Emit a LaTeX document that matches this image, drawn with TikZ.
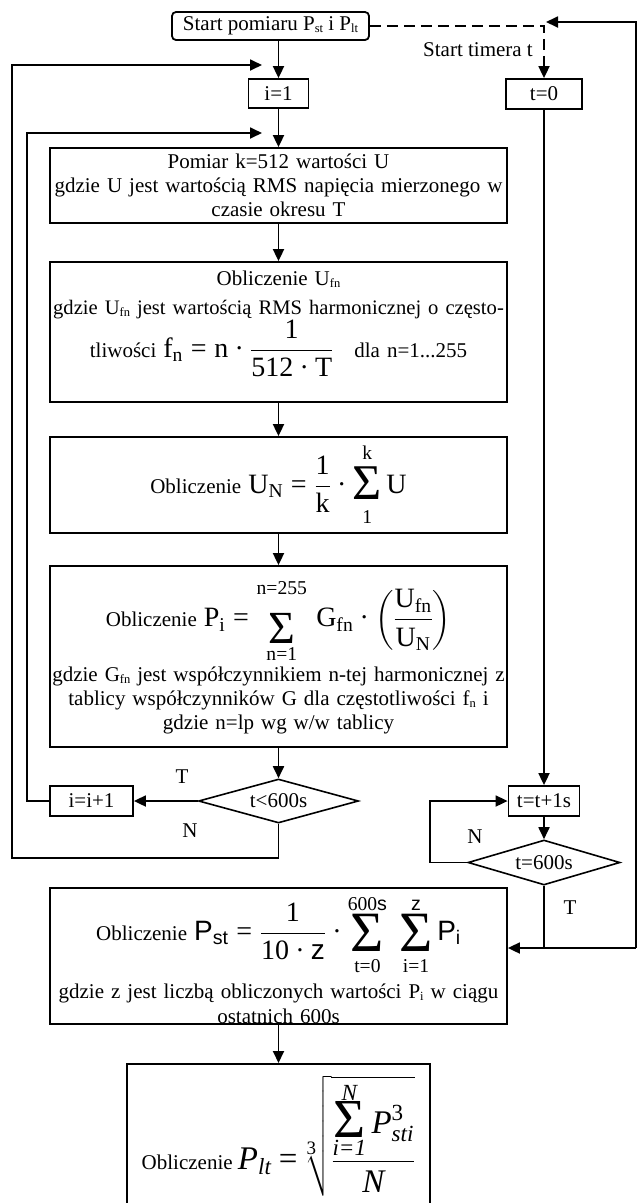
\RequirePackage{fix-cm}
\documentclass[tikz,border=0pt]{standalone}
\usepackage{amsmath}
\usepackage{fontspec}
\setmainfont{Liberation Serif}
\newfontfamily\arialf{Liberation Sans}
\usetikzlibrary{arrows.meta,shapes.geometric}

% small lowered index in running text
\newcommand\sbs[1]{\raisebox{-2pt}{\fontsize{12.5}{12.5}\selectfont #1}}
% letters inside formulas: roman, sans and italic text faces
\newcommand\tx[1]{\text{#1}}
\newcommand\sx[1]{\text{\arialf #1}}
\newcommand\ix[1]{\text{\itshape #1}}
\newcommand\eq{\mathrel{\tx{=}}}
\newcommand\cd{\mathbin{\tx{·}}}
% summation sign from the text font:
% #1 size, #2 lowering, #3 box height, #4 box depth, #5 lower limit, #6 upper limit
\newcommand\bsum[6]{\mathop{\hbox{\raisebox{-#2}[#3][#4]{\fontsize{#1}{#1}\selectfont Σ}}}\limits_{#5}^{#6}}
\newcommand\fsize{\fontsize{28}{32}\selectfont\thickmuskip=5mu\medmuskip=4mu}

\begin{document}
\begin{tikzpicture}[x=1pt,y=-1pt,
  every node/.style={font=\fontsize{21}{24}\selectfont, inner sep=2pt},
  line/.style={line width=1.8pt},
  arr/.style={line width=1.8pt,-{Triangle[length=12pt,width=11pt]}},
  dsh/.style={dash pattern=on 11pt off 6pt},
  box/.style={draw, line width=1.8pt, rectangle},
  bigbox/.style={box, inner sep=0pt, text width=457pt, align=center},
  dec/.style={draw, line width=1.6pt, diamond, shape aspect=3.6, inner sep=0pt},
  lab/.style={inner sep=0pt}]

\fill[white] (0,0) rectangle (637,1203);
\useasboundingbox (0,0) rectangle (637,1203);

% ---- main column -------------------------------------------------
\node[box, rounded corners=4pt, minimum width=197pt, minimum height=28pt, inner sep=0pt]
  (start) at (270.5,26) {Start pomiaru P\sbs{st} i P\sbs{lt}};
\node[box, minimum width=60pt, minimum height=29pt] (i1) at (278.5,93.5) {i=1};

\node[bigbox, minimum height=75pt] (pom) at (278.5,185.5)
  {Pomiar k=512 wartości U\\
   gdzie U jest wartością RMS napięcia mierzonego w\\
   czasie okresu T};

\node[bigbox, minimum height=140pt] (ufn) at (278.5,332)
  {Obliczenie U\sbs{fn}\\[5pt]
   \makebox[457pt]{\fontsize{20.6}{24}\selectfont gdzie U\sbs{fn} jest wartością RMS harmonicznej o często-}\\
   tliwości {\fsize$\tx{f}_{\tx{n}} \eq \tx{n}\cd\dfrac{\tx{1}}{\tx{512}\cd\tx{T}}$}\quad dla n=1...255\rule[-35pt]{0pt}{0pt}};

\node[bigbox, minimum height=96pt] (un) at (278.5,485)
  {Obliczenie {\fsize$\tx{U}_{\tx{N}} \eq \dfrac{\tx{1}}{\tx{k}}\cd\bsum{50}{6pt}{29pt}{13pt}{\tx{1}}{\tx{k}}\tx{U}$}};

\node[bigbox, minimum height=181pt] (pi) at (278.5,656.5)
  {Obliczenie {\fsize$\tx{P}_{\tx{i}} \eq \bsum{46}{17pt}{27pt}{17pt}{\tx{n=1}}{\tx{n=255}}\,\tx{G}_{\tx{fn}}\cd\left(\dfrac{\tx{U}_{\tx{fn}}}{\tx{U}_{\tx{N}}}\right)$}\\[2pt]
   gdzie G\sbs{fn} jest współczynnikiem n-tej harmonicznej z\\
   tablicy współczynników G dla częstotliwości f\sbs{n} i\\
   gdzie n=lp wg w/w tablicy};

\node[dec, minimum width=160pt, minimum height=44pt] (d1) at (278.5,801) {t<600s};
\node[box, minimum width=83pt, minimum height=30pt] (ii) at (91.5,801) {i=i+1};

\node[bigbox, minimum height=136pt] (pst) at (278.5,956)
  {\rule{0pt}{52pt}Obliczenie {\fsize$\sx{P}_{\sx{st}} \eq \dfrac{\tx{1}}{\tx{10}\cd\sx{z}}\cd\bsum{57}{11pt}{25pt}{15pt}{\tx{t=0}}{\tx{600}\sx{s}}\;\bsum{57}{11pt}{25pt}{15pt}{\tx{i=1}}{\sx{z}}\sx{P}_{\sx{i}}$}\\[8pt]
   gdzie z jest liczbą obliczonych wartości P\sbs{i} w ciągu\\[1pt]
   ostatnich 600s};

\node[box, anchor=north, minimum width=303pt, inner sep=0pt, text height=106pt, text depth=60pt]
  (plt) at (278.5,1063)
  {Obliczenie\ {\fontsize{33}{37}\selectfont\thickmuskip=4mu$\ix{P}_{\ix{lt}} \eq
   \sqrt[\uproot{-14}\leftroot{4}\tx{\fontsize{19}{19}\selectfont 3}]{\dfrac{\bsum{55}{4pt}{28pt}{3pt}{\ix{i=1}}{\ix{N}}\ix{P}_{\ix{sti}}^{\tx{3}}}{\ix{N}}}$}};

% ---- timer column ------------------------------------------------
\node[box, minimum width=76pt, minimum height=30pt] (t0) at (544,94) {t=0};
\node[box, minimum width=71pt, minimum height=30pt] (tt) at (544,801) {t=t+1s};
\node[dec, minimum width=152pt, minimum height=45pt] (d2) at (544,862.5) {t=600s};

% ---- branch labels -----------------------------------------------
\node[lab, anchor=east] (lst) at (533,50) {Start timera t};
\node[lab] (lT1) at (182,777) {T};
\node[lab] (lN1) at (190,831) {N};
\node[lab] (lN2) at (475,837) {N};
\node[lab] (lT2) at (570,908) {T};

% ---- bend points of the loops --------------------------------------
\coordinate (jo) at (262,65);
\coordinate (ji) at (262,133);
\coordinate (ob) at (12,858);
\coordinate (ot) at (12,65);
\coordinate (il) at (27,133);
\coordinate (nl) at (430,801);
\coordinate (rb) at (636,948);
\coordinate (rt) at (636,22);
\coordinate (tc) at (546,22);

% ---- connectors ----------------------------------------------------
\draw[arr] (start.south -| i1.north) -- (i1.north);
\draw[arr] (i1.south) -- (pom.north);
\draw[arr] (pom.south) -- (ufn.north);
\draw[arr] (ufn.south) -- (un.north);
\draw[arr] (un.south) -- (pi.north);
\draw[arr] (pi.south) -- (d1.north);
\draw[arr] (d1.west) -- (ii.east);
\draw[arr] (d1.south) |- (ob) -- (ot) -- (jo);
\draw[arr] (ii.west) -| (il) -- (ji);
\draw[arr] (pst.south) -- (plt.north);

\draw[arr, dsh] (start.east) -| (t0.north);
\draw[arr] (t0.south) -- (tt.north);
\draw[arr] (tt.south) -- (d2.north);
\draw[arr] (d2.west) -- (d2.west -| nl) |- (tt.west);
\draw[line] (d2.south) -- (d2.south |- rb);
\draw[arr] (rb) -- (rb -| pst.east);
\draw[arr] (rb) -- (rt) -- (tc);
\end{tikzpicture}
\end{document}
